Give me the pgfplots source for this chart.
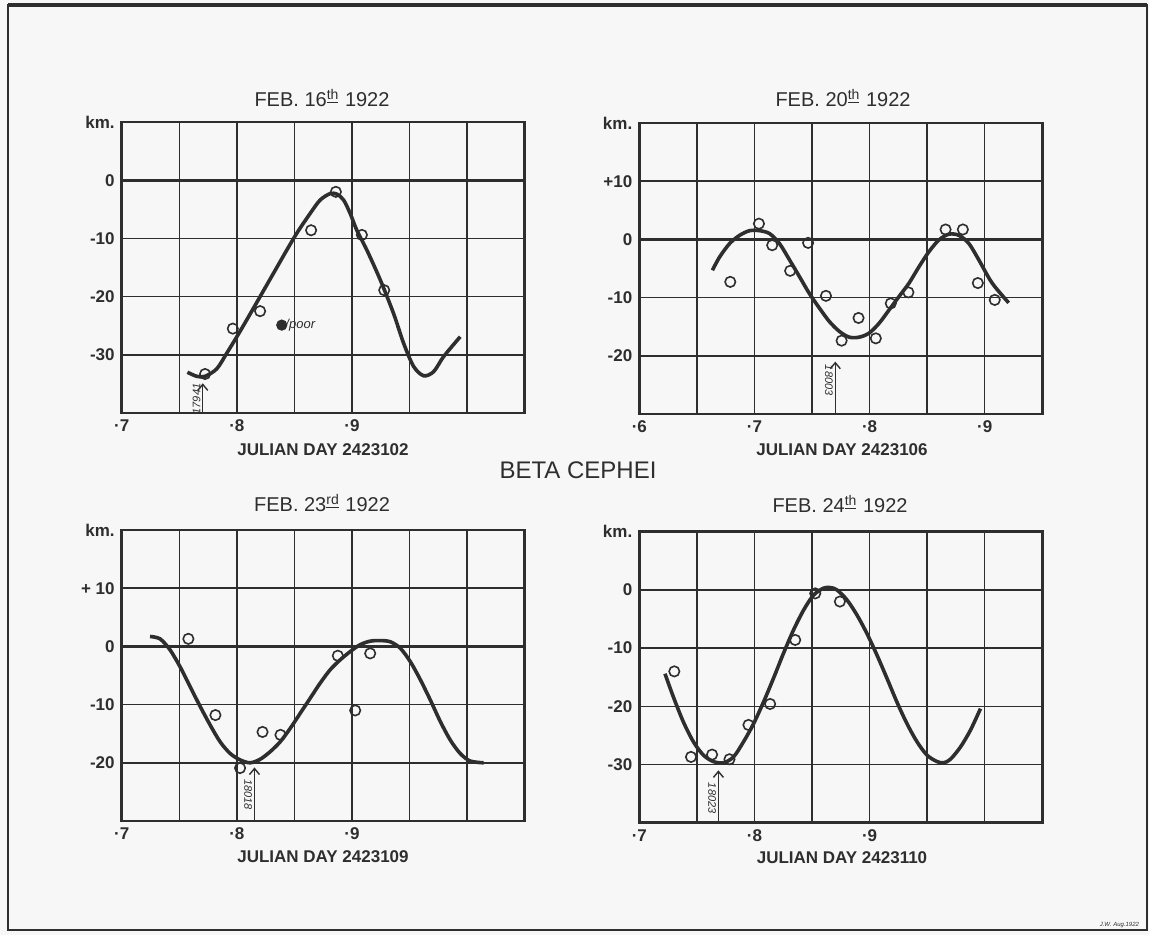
\documentclass[border=0pt]{standalone}
\usepackage{fontspec}
\setmainfont{Liberation Sans}
\usepackage{pgfplots}
\pgfplotsset{compat=1.18}
\usetikzlibrary{arrows.meta}

\definecolor{ink}{HTML}{2E2E2E}
\definecolor{paper}{HTML}{F7F7F7}

\pgfplotsset{
  panel/.style={
    scale only axis, width=201.5pt, height=145.5pt,
    anchor=south west,
    axis line style={ink, line width=1.4pt},
    grid=major,
    major grid style={ink, line width=0.75pt},
    major tick length=0pt,
    tick label style={ink, font=\fontsize{8.5}{10}\selectfont\bfseries},
    clip=false,
  },
  curve/.style={ink, line width=1.8pt, smooth, tension=0.5, no marks},
  obs/.style={only marks, mark=o, mark size=2.6pt, ink,
    mark options={line width=0.8pt, fill=paper}},
}
\tikzset{
  plate/.style={ink, line width=0.7pt, -{Straight Barb[length=3pt,width=5pt]}},
  platetxt/.style={ink, font=\fontsize{5.5}{6}\selectfont\itshape, anchor=south, inner sep=1pt},
}
\newcommand{\zeroline}{\draw[ink, line width=1.4pt] ({rel axis cs:0,0}|-{axis cs:0.8,0}) -- ({rel axis cs:1,0}|-{axis cs:0.8,0});}

\begin{document}
\begin{tikzpicture}
\useasboundingbox (0,0) rectangle (574.5pt,467.5pt);
\fill[paper] (0,0) rectangle (574.5pt,467.5pt);
\draw[ink, line width=0.8pt] (4pt,2.5pt) rectangle (573.5pt,465pt);
\draw[ink, line width=2pt] (4pt,465pt) -- (573.5pt,465pt);

% ---------- FEB 16 ----------
\begin{axis}[panel, at={(60.85pt,261pt)},
  xmin=0.70, xmax=1.05, ymin=-40, ymax=10,
  xtick={0.70,0.75,0.80,0.85,0.90,0.95,1.00,1.05},
  xticklabels={·7,,·8,,·9,,,},
  ytick={-40,-30,-20,-10,0,10},
  yticklabels={,-30,-20,-10,0,km.}]
\zeroline
\addplot[curve] coordinates {
 (0.7571,-33.0) (0.7652,-33.7) (0.7724,-33.7) (0.7826,-32.4) (0.7913,-29.7)
 (0.8000,-26.9) (0.8086,-24.0) (0.8202,-20.0) (0.8318,-16.0) (0.8434,-12.0)
 (0.8521,-9.1) (0.8637,-5.7) (0.8724,-3.4) (0.8811,-2.3) (0.8869,-2.4)
 (0.8927,-3.4) (0.8984,-5.7) (0.9042,-8.6) (0.9129,-12.0) (0.9245,-17.1)
 (0.9361,-22.9) (0.9448,-28.0) (0.9535,-32.0) (0.9622,-33.6) (0.9709,-32.9)
 (0.9796,-30.3) (0.9940,-26.9)};
\addplot[obs] coordinates {
 (0.7724,-33.3) (0.7965,-25.5) (0.8202,-22.5) (0.8645,-8.6)
 (0.8860,-2.0) (0.9086,-9.4) (0.9280,-18.9)};
\addplot[only marks, mark=*, mark size=2.6pt, ink] coordinates {(0.8390,-24.9)};
\node[anchor=west, ink, font=\fontsize{6.5}{7}\selectfont\itshape, inner sep=0.5pt] at (axis cs:0.8410,-24.9) {/poor};
\draw[plate] (axis cs:0.7704,-40) -- (axis cs:0.7704,-34.9);
\node[platetxt, rotate=90] at (axis cs:0.7704,-37.6) {17941};
\end{axis}

% ---------- FEB 20 ----------
\begin{axis}[panel, at={(319.65pt,260.5pt)},
  xmin=0.60, xmax=0.95, ymin=-30, ymax=20,
  xtick={0.60,0.65,0.70,0.75,0.80,0.85,0.90,0.95},
  xticklabels={·6,,·7,,·8,,·9,},
  ytick={-30,-20,-10,0,10,20},
  yticklabels={,-20,-10,0,+10,km.}]
\zeroline
\addplot[curve] coordinates {
 (0.6635,-5.3) (0.6698,-3.0) (0.6785,-0.7) (0.6871,0.7) (0.6958,1.5)
 (0.7044,1.5) (0.7131,1.0) (0.7217,-0.7) (0.7304,-3.5) (0.7391,-6.4)
 (0.7477,-9.3) (0.7564,-11.8) (0.7650,-14.1) (0.7737,-15.8) (0.7823,-16.8)
 (0.7910,-16.8) (0.7996,-16.1) (0.8083,-14.4) (0.8170,-12.1) (0.8256,-9.8)
 (0.8343,-7.5) (0.8429,-4.7) (0.8516,-2.1) (0.8602,-0.1) (0.8689,0.9)
 (0.8775,0.7) (0.8862,-0.7) (0.8948,-3.5) (0.9064,-7.5) (0.9208,-10.9)};
\addplot[obs] coordinates {
 (0.6790,-7.3) (0.7039,2.7) (0.7154,-1.0) (0.7310,-5.4) (0.7466,-0.6)
 (0.7621,-9.7) (0.7757,-17.4) (0.7904,-13.5) (0.8054,-17.0) (0.8184,-11.0)
 (0.8337,-9.1) (0.8660,1.7) (0.8810,1.7) (0.8940,-7.5) (0.9087,-10.4)};
\draw[plate] (axis cs:0.7702,-30) -- (axis cs:0.7702,-21.0);
\node[platetxt, rotate=-90, anchor=north] at (axis cs:0.7702,-24.2) {18003};
\end{axis}

% ---------- FEB 23 ----------
\begin{axis}[panel, at={(60.85pt,57pt)},
  xmin=0.70, xmax=1.05, ymin=-30, ymax=20,
  xtick={0.70,0.75,0.80,0.85,0.90,0.95,1.00,1.05},
  xticklabels={·7,,·8,,·9,,,},
  ytick={-30,-20,-10,0,10,20},
  yticklabels={,-20,-10,0,+ 10,km.}]
\zeroline
\addplot[curve] coordinates {
 (0.7246,1.7) (0.7333,1.3) (0.7420,-0.6) (0.7507,-3.5) (0.7594,-6.9)
 (0.7681,-10.3) (0.7768,-13.5) (0.7855,-16.4) (0.7942,-18.4) (0.8028,-19.5)
 (0.8115,-20.0) (0.8202,-19.4) (0.8289,-18.1) (0.8376,-16.4) (0.8463,-14.1)
 (0.8550,-11.5) (0.8637,-8.9) (0.8724,-6.3) (0.8811,-4.0) (0.8898,-2.3)
 (0.8984,-0.9) (0.9071,0.3) (0.9158,0.9) (0.9245,1.0) (0.9332,0.8)
 (0.9419,-0.3) (0.9506,-2.6) (0.9593,-5.7) (0.9680,-9.2) (0.9767,-12.9)
 (0.9854,-16.1) (0.9940,-18.4) (1.0027,-19.7) (1.0143,-20.0)};
\addplot[obs] coordinates {
 (0.7579,1.3) (0.7814,-11.8) (0.8028,-20.9) (0.8223,-14.7)
 (0.8379,-15.2) (0.8877,-1.6) (0.9028,-11.0) (0.9158,-1.2)};
\draw[plate] (axis cs:0.8153,-30) -- (axis cs:0.8153,-20.8);
\node[platetxt, rotate=-90, anchor=north] at (axis cs:0.8153,-25.5) {18018};
\end{axis}

% ---------- FEB 24 ----------
\begin{axis}[panel, at={(319.65pt,56.15pt)},
  xmin=0.70, xmax=1.05, ymin=-40, ymax=10,
  xtick={0.70,0.75,0.80,0.85,0.90,0.95,1.00,1.05},
  xticklabels={·7,,·8,,·9,,,},
  ytick={-40,-30,-20,-10,0,10},
  yticklabels={,-30,-20,-10,0,km.}]
\zeroline
\addplot[curve] coordinates {
 (0.7223,-14.4) (0.7296,-18.4) (0.7383,-22.7) (0.7470,-26.1) (0.7557,-28.4)
 (0.7644,-29.5) (0.7731,-29.7) (0.7818,-28.7) (0.7905,-26.1) (0.7992,-23.0)
 (0.8078,-19.3) (0.8165,-15.2) (0.8252,-10.9) (0.8339,-6.9) (0.8426,-3.5)
 (0.8513,-0.9) (0.8600,0.3) (0.8658,0.4) (0.8716,0.0) (0.8803,-1.7)
 (0.8890,-4.3) (0.8977,-7.5) (0.9064,-11.2) (0.9151,-15.2) (0.9238,-19.3)
 (0.9325,-23.0) (0.9412,-26.1) (0.9499,-28.4) (0.9586,-29.5) (0.9644,-29.7)
 (0.9702,-29.1) (0.9789,-27.0) (0.9876,-24.1) (0.9963,-20.4)};
\addplot[obs] coordinates {
 (0.7304,-14.0) (0.7449,-28.7) (0.7632,-28.3) (0.7783,-29.1) (0.7948,-23.2)
 (0.8136,-19.6) (0.8354,-8.6) (0.8528,-0.6) (0.8742,-2.0)};
\draw[plate] (axis cs:0.7687,-40) -- (axis cs:0.7687,-31.0);
\node[platetxt, rotate=-90, anchor=north] at (axis cs:0.7687,-35.8) {18023};
\end{axis}

% ---------- titles and labels ----------
\begin{scope}[ink]
\node[font=\fontsize{10}{12}\selectfont] at (161pt,418.5pt) {FEB. 16\textsuperscript{\underline{th}} 1922};
\node[font=\fontsize{10}{12}\selectfont] at (421.5pt,418.5pt) {FEB. 20\textsuperscript{\underline{th}} 1922};
\node[font=\fontsize{10}{12}\selectfont] at (161pt,216pt) {FEB. 23\textsuperscript{\underline{rd}} 1922};
\node[font=\fontsize{10}{12}\selectfont] at (420pt,215.5pt) {FEB. 24\textsuperscript{\underline{th}} 1922};
\node[font=\fontsize{8.5}{10}\selectfont\bfseries] at (161.5pt,242.5pt) {JULIAN DAY 2423102};
\node[font=\fontsize{8.5}{10}\selectfont\bfseries] at (421pt,242.5pt) {JULIAN DAY 2423106};
\node[font=\fontsize{8.5}{10}\selectfont\bfseries] at (161.5pt,39pt) {JULIAN DAY 2423109};
\node[font=\fontsize{8.5}{10}\selectfont\bfseries] at (421pt,38.5pt) {JULIAN DAY 2423110};
\node[font=\fontsize{12}{14}\selectfont] at (289pt,232.5pt) {BETA CEPHEI};
\node[font=\fontsize{3}{3.5}\selectfont\itshape, anchor=east] at (573pt,5pt) {J.W. Aug.1922};
\end{scope}
\end{tikzpicture}
\end{document}
